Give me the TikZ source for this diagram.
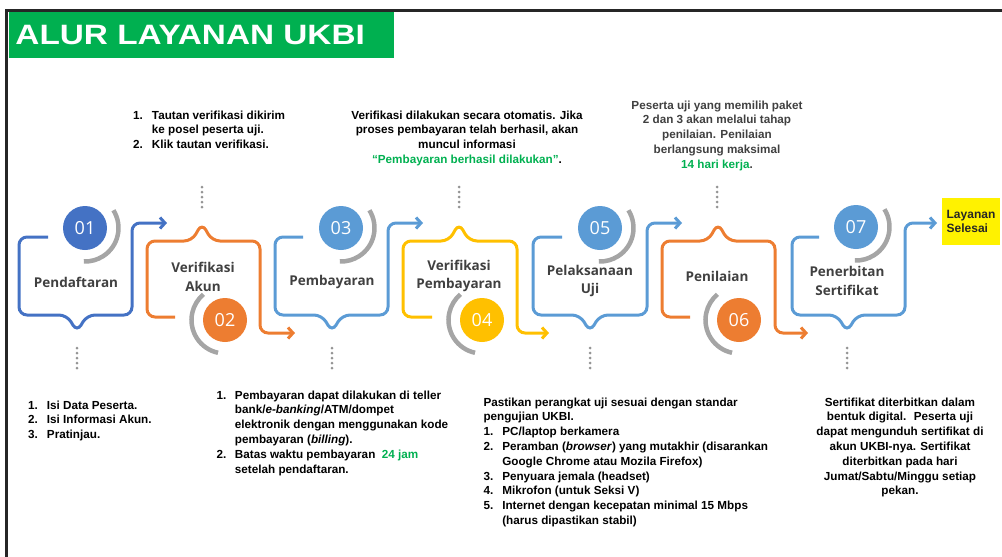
\documentclass[tikz,border=0pt]{standalone}
\usepackage{fontspec}
\setmainfont{Liberation Sans}
\newfontfamily\stepfont{Open Sans}
\newfontfamily\titlefont[FakeStretch=1.19]{Liberation Sans}
\usetikzlibrary{positioning,calc}
\usetikzlibrary{arrows.meta}

\definecolor{ukgreen}{HTML}{00B050}
\definecolor{ukdarkblue}{HTML}{4472C4}
\definecolor{uklightblue}{HTML}{5B9BD5}
\definecolor{ukorange}{HTML}{ED7D31}
\definecolor{ukyellow}{HTML}{FFC000}
\definecolor{ukring}{HTML}{A5A5A5}
\definecolor{uklabel}{HTML}{404040}
\definecolor{ukframe}{HTML}{262626}

\tikzset{
   stepline/.style={line width=3pt, rounded corners=8pt, -{Straight Barb[length=5pt,width=11pt]}},
   numdot/.style={circle, minimum size=44pt, inner sep=0pt, text=white,
      font=\stepfont\fontsize{18}{20}\selectfont},
   ring/.style={line width=4.5pt, draw=ukring},
   steplabel/.style={align=center, text=uklabel, inner sep=0pt,
      font=\stepfont\bfseries\fontsize{13.5}{18.5}\selectfont},
   dotline/.style={line width=3pt, draw=ukring!90!black, line cap=round, dash pattern=on 0pt off 5pt},
   desc/.style={inner sep=0pt, font=\bfseries\fontsize{11.7}{14.8}\selectfont},
}

\begin{document}
\begin{tikzpicture}[x=1pt,y=1pt]
   \useasboundingbox (0,0) rectangle (1002,-557);

   \draw[line width=2.7pt, ukframe] (5,-10.7) -- (1002,-10.7);
   \draw[line width=3pt, ukframe] (6.7,-9.5) -- (6.7,-557);
   \node[fill=ukgreen, anchor=north west, minimum width=385pt, minimum height=46pt,
      inner xsep=7pt, inner ysep=0pt, text width=371pt, align=left, text=white,
      font=\titlefont\bfseries\fontsize{28}{30}\selectfont] (title) at (8.3,-12) {ALUR LAYANAN UKBI};

   \draw[stepline, ukdarkblue] (48,-237) -- (19,-237) -- (19,-315) -- (67,-315) -- (77,-332) -- (87,-315) -- (132,-315) -- (132,-223) -- (167,-223);
   \draw[stepline, ukorange] (175,-317) -- (147,-317) -- (147,-241) -- (192,-241) -- (202,-223) -- (212,-241) -- (260,-241) -- (260,-333) -- (295,-333);
   \draw[stepline, uklightblue] (303,-237) -- (275,-237) -- (275,-315) -- (322,-315) -- (332,-332) -- (342,-315) -- (388,-315) -- (388,-223) -- (423,-223);
   \draw[stepline, ukyellow] (432,-317) -- (403,-317) -- (403,-241) -- (449,-241) -- (459,-223) -- (469,-241) -- (517,-241) -- (517,-333) -- (549,-333);
   \draw[stepline, uklightblue] (562,-237) -- (533,-237) -- (533,-315) -- (580,-315) -- (590,-332) -- (600,-315) -- (647,-315) -- (647,-223) -- (682,-223);
   \draw[stepline, ukorange] (690,-317) -- (662,-317) -- (662,-241) -- (708,-241) -- (718,-223) -- (728,-241) -- (775,-241) -- (775,-333) -- (808,-333);
   \draw[stepline, uklightblue] (819,-237) -- (792,-237) -- (792,-315) -- (837,-315) -- (847,-332) -- (857,-315) -- (905,-315) -- (905,-223) -- (937,-223);

   \node[numdot, fill=ukdarkblue] (c1) at (85,-228) {01};
   \node[numdot, fill=ukorange] (c2) at (225,-320) {02};
   \node[numdot, fill=uklightblue] (c3) at (341,-228) {03};
   \node[numdot, fill=ukyellow] (c4) at (482,-320) {04};
   \node[numdot, fill=uklightblue] (c5) at (600,-228) {05};
   \node[numdot, fill=ukorange] (c6) at (739,-320) {06};
   \node[numdot, fill=uklightblue] (c7) at (856,-227) {07};

   \draw[ring] (c1) ++(32:33.5) arc[start angle=32, end angle=-92, radius=33.5];
   \draw[ring] (c3) ++(32:33.5) arc[start angle=32, end angle=-92, radius=33.5];
   \draw[ring] (c5) ++(32:33.5) arc[start angle=32, end angle=-92, radius=33.5];
   \draw[ring] (c7) ++(32:33.5) arc[start angle=32, end angle=-92, radius=33.5];
   \draw[ring] (c2) ++(-102:33.5) arc[start angle=-102, end angle=-230, radius=33.5];
   \draw[ring] (c4) ++(-102:33.5) arc[start angle=-102, end angle=-230, radius=33.5];
   \draw[ring] (c6) ++(-102:33.5) arc[start angle=-102, end angle=-230, radius=33.5];

   \node[steplabel] (l1) at (76,-282) {Pendaftaran};
   \node[steplabel] (l2) at (203,-277) {Verifikasi\\Akun};
   \node[steplabel] (l3) at (332,-282) {Pembayaran};
   \node[steplabel] (l4) at (459,-276) {Verifikasi\\Pembayaran};
   \node[steplabel] (l5) at (590,-281) {Pelaksanaan\\Uji};
   \node[steplabel] (l6) at (717,-276) {Penilaian};
   \node[steplabel] (l7) at (847,-281) {Penerbitan\\Sertifikat};

   \draw[dotline] (77,-348) -- (77,-368.5);
   \draw[dotline] (202,-187) -- (202,-207.5);
   \draw[dotline] (332,-348) -- (332,-368.5);
   \draw[dotline] (459,-187) -- (459,-207.5);
   \draw[dotline] (590,-348) -- (590,-368.5);
   \draw[dotline] (717,-187) -- (717,-207.5);
   \draw[dotline] (847,-348) -- (847,-368.5);

   \node[fill=yellow, minimum width=58pt, minimum height=47pt, inner sep=0pt, align=left,
      text=black!85, font=\bfseries\fontsize{12}{14}\selectfont] (done) at (971,-221.5) {Layanan\\Selesai};

   \node[desc, anchor=north west] (t1) at (28,-398.6) {\begin{tabular}{@{}l@{\hspace{9pt}}l@{}}
      1. & Isi Data Peserta.\\
      2. & Isi Informasi Akun.\\
      3. & Pratinjau.
   \end{tabular}};
   \node[desc, anchor=north west] (t2) at (133,-108.6) {\begin{tabular}{@{}l@{\hspace{9pt}}l@{}}
      1. & Tautan verifikasi dikirim\\
         & ke posel peserta uji.\\
      2. & Klik tautan verifikasi.
   \end{tabular}};
   \node[desc, anchor=north west] (t3) at (216.5,-388.6) {\begin{tabular}{@{}l@{\hspace{8.5pt}}l@{}}
      1. & Pembayaran dapat dilakukan di teller\\
         & bank/\textit{e-banking}/ATM/dompet\\
         & elektronik dengan menggunakan kode\\
         & pembayaran (\textit{billing}).\\
      2. & Batas waktu pembayaran \ \textcolor{ukgreen}{24 jam}\\
         & setelah pendaftaran.
   \end{tabular}};
   \node[desc, anchor=north] (t4) at (467,-108.6) {\begin{tabular}{@{}c@{}}
      Verifikasi dilakukan secara otomatis. Jika\\
      proses pembayaran telah berhasil, akan\\
      muncul informasi\\
      \textcolor{ukgreen}{“Pembayaran berhasil dilakukan”}.
   \end{tabular}};
   \node[desc, anchor=north west] (t5) at (483.3,-395.6) {\begin{tabular}{@{}l@{\hspace{9pt}}l@{}}
      \multicolumn{2}{@{}l@{}}{Pastikan perangkat uji sesuai dengan standar}\\
      \multicolumn{2}{@{}l@{}}{pengujian UKBI.}\\
      1. & PC/laptop berkamera\\
      2. & Peramban (\textit{browser}) yang mutakhir (disarankan\\
         & Google Chrome atau Mozila Firefox)\\
      3. & Penyuara jemala (headset)\\
      4. & Mikrofon (untuk Seksi V)\\
      5. & Internet dengan kecepatan minimal 15 Mbps\\
         & (harus dipastikan stabil)
   \end{tabular}};
   \node[desc, anchor=north, text=uklabel] (t6) at (717,-98.6) {\begin{tabular}{@{}c@{}}
      Peserta uji yang memilih paket\\
      2 dan 3 akan melalui tahap\\
      penilaian. Penilaian\\
      berlangsung maksimal\\
      \textcolor{ukgreen}{14 hari kerja}.
   \end{tabular}};
   \node[desc, anchor=north] (t7) at (900,-395.6) {\begin{tabular}{@{}c@{}}
      Sertifikat diterbitkan dalam\\
      bentuk digital. \ Peserta uji\\
      dapat mengunduh sertifikat di\\
      akun UKBI-nya. Sertifikat\\
      diterbitkan pada hari\\
      Jumat/Sabtu/Minggu setiap\\
      pekan.
   \end{tabular}};
\end{tikzpicture}
\end{document}
